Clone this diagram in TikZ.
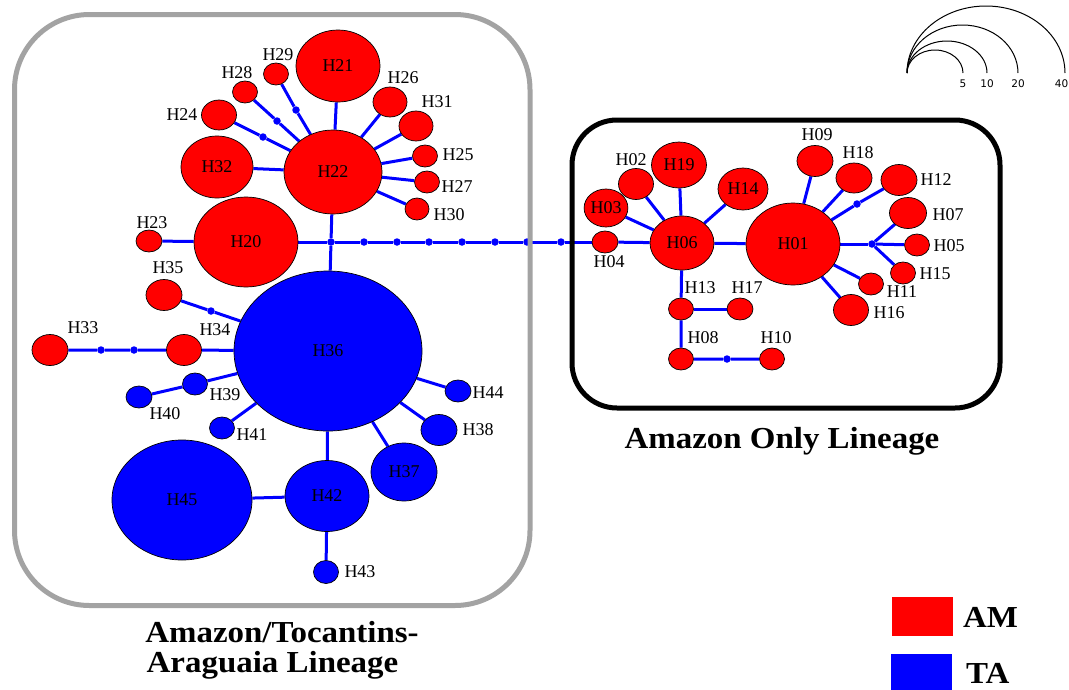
\documentclass[tikz,border=0pt]{standalone}
\usepackage{fontspec}
\setmainfont{Liberation Serif}
\newfontfamily\ttlfont[FakeStretch=1.08]{Liberation Serif Bold}
\newfontfamily\sclfont{DejaVu Sans}
\usetikzlibrary{shapes.geometric,backgrounds}
\definecolor{amc}{RGB}{255,0,0}
\definecolor{tac}{RGB}{0,0,255}
\definecolor{boxgray}{RGB}{163,163,163}
\tikzset{
  hap/.style={ellipse, draw=black, line width=0.7pt, inner sep=0pt, font=\fontsize{18}{18}\selectfont},
  amn/.style={hap, fill=amc},
  tan/.style={hap, fill=tac},
  e/.style 2 args={minimum width=#1pt, minimum height=#2pt},
  lab/.style={font=\fontsize{18}{18}\selectfont, inner sep=0pt},
  edge/.style={draw=tac, line width=3pt},
  mv/.style={circle, fill=tac, inner sep=0pt, minimum size=7.5pt},
  ttl/.style={font=\fontsize{30.5}{34}\ttlfont, inner sep=0pt, anchor=base},
  scl/.style={font=\fontsize{10.5}{10.5}\sclfont, inner sep=0pt},
  arcl/.style={draw=black, line width=1pt},
}
\begin{document}
\begin{tikzpicture}[x=1pt,y=-1pt]
\useasboundingbox (0,0) rectangle (1069,689);
% ---- left cluster
\node[amn,e={84}{72}] (H21) at (338,66) {H21};
\node[amn,e={98}{84}] (H22) at (333,172) {H22};
\node[amn,e={72}{62}] (H32) at (217,167) {H32};
\node[amn,e={104}{90}] (H20) at (246,242) {H20};
\node[amn,e={26}{22}] (H23) at (149,241) {};
\node[amn,e={35}{30}] (H24) at (219,115) {};
\node[amn,e={25}{22}] (H28) at (245,92) {};
\node[amn,e={25}{22}] (H29) at (276,74) {};
\node[amn,e={34}{30}] (H26) at (390,102) {};
\node[amn,e={34}{30}] (H31) at (416,126) {};
\node[amn,e={25}{22}] (H25) at (425,156) {};
\node[amn,e={25}{22}] (H27) at (427,182) {};
\node[amn,e={24}{22}] (H30) at (417,209) {};
\node[amn,e={36}{31}] (H35) at (164,295) {};
\node[amn,e={36}{31}] (H33) at (50,350) {};
\node[amn,e={35}{31}] (H34) at (184,350) {};
\node[tan,e={188}{160}] (H36) at (328,351) {H36};
\node[tan,e={25}{22}] (H39) at (195,384) {};
\node[tan,e={26}{22}] (H40) at (139,397) {};
\node[tan,e={25}{22}] (H41) at (222,428) {};
\node[tan,e={26}{22}] (H44) at (458,391) {};
\node[tan,e={36}{31}] (H38) at (439,430) {};
\node[tan,e={66}{58}] (H37) at (404,472) {H37};
\node[tan,e={84}{71}] (H42) at (327,496) {H42};
\node[tan,e={140}{120}] (H45) at (182,500) {H45};
\node[tan,e={25}{23}] (H43) at (326,572) {};
% ---- right cluster
\node[amn,e={94}{82}] (H01) at (793,244) {H01};
\node[amn,e={64}{54}] (H06) at (682,243) {H06};
\node[amn,e={26}{22}] (H04) at (605,242) {};
\node[amn,e={43}{38}] (H03) at (606,208) {H03};
\node[amn,e={35}{31}] (H02) at (636,184) {};
\node[amn,e={55}{46}] (H19) at (679,165) {H19};
\node[amn,e={50}{42}] (H14) at (743,189) {H14};
\node[amn,e={25}{22}] (H13) at (681,309) {};
\node[amn,e={26}{22}] (H17) at (740,309) {};
\node[amn,e={25}{22}] (H08) at (681,359) {};
\node[amn,e={25}{22}] (H10) at (772,359) {};
\node[amn,e={36}{31}] (H09) at (815,161) {};
\node[amn,e={36}{30}] (H18) at (854,178) {};
\node[amn,e={36}{31}] (H12) at (899,180) {};
\node[amn,e={37}{31}] (H07) at (908,213) {};
\node[amn,e={25}{22}] (H05) at (917,245) {};
\node[amn,e={25}{22}] (H15) at (903,273) {};
\node[amn,e={25}{22}] (H11) at (871,284) {};
\node[amn,e={35}{31}] (H16) at (851,310) {};
% ---- median vectors
\node[mv] (j0) at (331,242) {};
\node[mv] (d1) at (364,242) {};
\node[mv] (d2) at (397,242) {};
\node[mv] (d3) at (429,242) {};
\node[mv] (d4) at (462,242) {};
\node[mv] (d5) at (495,242) {};
\node[mv] (d6) at (527,242) {};
\node[mv] (d7) at (561,242) {};
\node[mv] (d29) at (296,110) {};
\node[mv] (d28) at (277,121) {};
\node[mv] (d24) at (263,137) {};
\node[mv] (d35) at (211,311) {};
\node[mv] (d33a) at (101,350) {};
\node[mv] (d33b) at (134,350) {};
\node[mv] (d10) at (727,359) {};
\node[mv] (d12) at (857,204) {};
\node[mv] (j1) at (872,244) {};
% ---- outside labels
\node[lab] (l29) at (278,55) {H29};
\node[lab] (l28) at (237,73) {H28};
\node[lab] (l24) at (182,115) {H24};
\node[lab] (l26) at (403,78) {H26};
\node[lab] (l31) at (437,102) {H31};
\node[lab] (l25) at (458,155) {H25};
\node[lab] (l27) at (457,187) {H27};
\node[lab] (l30) at (449,215) {H30};
\node[lab] (l23) at (152,223) {H23};
\node[lab] (l35) at (168,268) {H35};
\node[lab] (l33) at (83,328) {H33};
\node[lab] (l34) at (215,330) {H34};
\node[lab] (l39) at (225,395) {H39};
\node[lab] (l40) at (165,414) {H40};
\node[lab] (l41) at (252,435) {H41};
\node[lab] (l44) at (488,393) {H44};
\node[lab] (l38) at (478,430) {H38};
\node[lab] (l43) at (360,572) {H43};
\node[lab] (l02) at (631,160) {H02};
\node[lab] (l04) at (609,262) {H04};
\node[lab] (l13) at (700,288) {H13};
\node[lab] (l17) at (747,288) {H17};
\node[lab] (l08) at (703,338) {H08};
\node[lab] (l10) at (776,338) {H10};
\node[lab] (l09) at (817,135) {H09};
\node[lab] (l18) at (858,153) {H18};
\node[lab] (l12) at (936,180) {H12};
\node[lab] (l07) at (948,215) {H07};
\node[lab] (l05) at (949,246) {H05};
\node[lab] (l15) at (935,274) {H15};
\node[lab] (l11) at (902,292) {H11};
\node[lab] (l16) at (889,313) {H16};
% ---- edges
\begin{pgfonlayer}{background}
\draw[edge] (H20) -- (j0) -- (d1) -- (d2) -- (d3) -- (d4) -- (d5) -- (d6) -- (d7) -- (H04);
\draw[edge] (H23) -- (H20);
\draw[edge] (H22) -- (j0) -- (H36);
\draw[edge] (H22) -- (H21);
\draw[edge] (H22) -- (H32);
\draw[edge] (H22) -- (d24) -- (H24);
\draw[edge] (H22) -- (d28) -- (H28);
\draw[edge] (H22) -- (d29) -- (H29);
\draw[edge] (H22) -- (H26);
\draw[edge] (H22) -- (H31);
\draw[edge] (H22) -- (H25);
\draw[edge] (H22) -- (H27);
\draw[edge] (H22) -- (H30);
\draw[edge] (H36) -- (d35) -- (H35);
\draw[edge] (H36) -- (H34) -- (d33b) -- (d33a) -- (H33);
\draw[edge] (H36) -- (H39) -- (H40);
\draw[edge] (H36) -- (H41);
\draw[edge] (H36) -- (H44);
\draw[edge] (H36) -- (H38);
\draw[edge] (H36) -- (H37);
\draw[edge] (H36) -- (H42);
\draw[edge] (H42) -- (H45);
\draw[edge] (H42) -- (H43);
\draw[edge] (H04) -- (H06);
\draw[edge] (H06) -- (H03);
\draw[edge] (H06) -- (H02);
\draw[edge] (H06) -- (H19);
\draw[edge] (H06) -- (H14);
\draw[edge] (H06) -- (H01);
\draw[edge] (H06) -- (H13) -- (H08) -- (d10) -- (H10);
\draw[edge] (H13) -- (H17);
\draw[edge] (H01) -- (H09);
\draw[edge] (H01) -- (H18);
\draw[edge] (H01) -- (d12) -- (H12);
\draw[edge] (H01) -- (j1);
\draw[edge] (j1) -- (H07);
\draw[edge] (j1) -- (H05);
\draw[edge] (j1) -- (H15);
\draw[edge] (H01) -- (H11);
\draw[edge] (H01) -- (H16);
\end{pgfonlayer}
% ---- lineage boxes
\draw[boxgray, line width=5pt, rounded corners=75pt] (14.5,14.5) rectangle (530,605.5);
\draw[black, line width=5pt, rounded corners=45pt] (572,120) rectangle (1000,408);
% ---- titles
\node[ttl] (t1) at (782,448) {Amazon Only Lineage};
\node[ttl] (t2) at (282,642) {Amazon/Tocantins-};
\node[ttl] (t3) at (272.5,672) {Araguaia Lineage};
% ---- colour legend
\node[draw=none, fill=amc, minimum width=61pt, minimum height=39pt, inner sep=0pt] (kam) at (922.5,616.5) {};
\node[draw=none, fill=tac, minimum width=61pt, minimum height=36pt, inner sep=0pt] (kta) at (921.5,672) {};
\node[ttl, anchor=base west] (tam) at (963,627) {AM};
\node[ttl, anchor=base west] (tta) at (966,683) {TA};
% ---- scale legend
\coordinate (s0) at (907,73);
\draw[arcl] (s0) arc[start angle=180, end angle=360, x radius=28, y radius=23];
\draw[arcl] (s0) arc[start angle=180, end angle=360, x radius=40, y radius=32];
\draw[arcl] (s0) arc[start angle=180, end angle=360, x radius=55.5, y radius=48];
\draw[arcl] (s0) arc[start angle=180, end angle=360, x radius=79, y radius=67];
\node[scl] (s5) at (963,84) {5};
\node[scl] (s10) at (987,84) {10};
\node[scl] (s20) at (1018,84) {20};
\node[scl, anchor=east] (s40) at (1068.5,84) {40};
\end{tikzpicture}
\end{document}
